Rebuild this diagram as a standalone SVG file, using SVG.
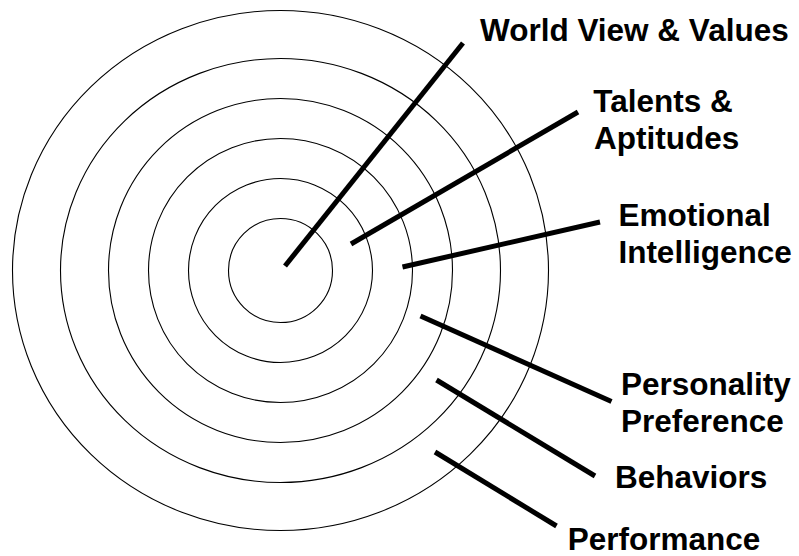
<svg xmlns="http://www.w3.org/2000/svg" width="799" height="556" viewBox="0 0 799 556">
  <style>
    .ring { fill: none; stroke: #000; stroke-width: 1.1; }
    .leader { stroke: #000; stroke-width: 5; stroke-linecap: butt; }
    .label { font-family: "Liberation Sans", Arial, sans-serif; font-weight: bold; font-size: 31.5px; fill: #000; }
  </style>
  <rect width="799" height="556" fill="#fff"/>

  <!-- concentric layers, innermost first -->
  <g id="rings">
    <ellipse id="ring-world-view" class="ring" cx="280.5" cy="270.5" rx="52" ry="52"/>
    <ellipse id="ring-talents" class="ring" cx="280.5" cy="270.5" rx="92" ry="92"/>
    <ellipse id="ring-emotional" class="ring" cx="280.5" cy="270.5" rx="132" ry="132"/>
    <ellipse id="ring-personality" class="ring" cx="280.5" cy="270.5" rx="172" ry="172"/>
    <ellipse id="ring-behaviors" class="ring" cx="280.5" cy="270.5" rx="220" ry="212"/>
    <ellipse id="ring-performance" class="ring" cx="280.5" cy="270.5" rx="268" ry="260"/>
  </g>

  <!-- leader lines from each layer to its label -->
  <g id="connectors">
    <line class="leader" x1="285" y1="266" x2="463" y2="43"/>
    <line class="leader" x1="351" y1="244" x2="578" y2="112"/>
    <line class="leader" x1="402.5" y1="267" x2="600" y2="222"/>
    <line class="leader" x1="420.5" y1="316" x2="611.5" y2="401.5"/>
    <line class="leader" x1="436.5" y1="380" x2="595" y2="476"/>
    <line class="leader" x1="435" y1="452" x2="556.5" y2="526"/>
  </g>

  <g id="label-world-view">
    <text class="label" x="480" y="40.5">World View &amp; Values</text>
  </g>
  <g id="label-talents">
    <text class="label" x="593.3" y="112">Talents &amp;</text>
    <text class="label" x="594" y="149">Aptitudes</text>
  </g>
  <g id="label-emotional">
    <text class="label" x="618.4" y="226">Emotional</text>
    <text class="label" x="618.4" y="262.5">Intelligence</text>
  </g>
  <g id="label-personality">
    <text class="label" x="621" y="395">Personality</text>
    <text class="label" x="621" y="431.5">Preference</text>
  </g>
  <g id="label-behaviors">
    <text class="label" x="615" y="488">Behaviors</text>
  </g>
  <g id="label-performance">
    <text class="label" x="567.7" y="550">Performance</text>
  </g>
</svg>
